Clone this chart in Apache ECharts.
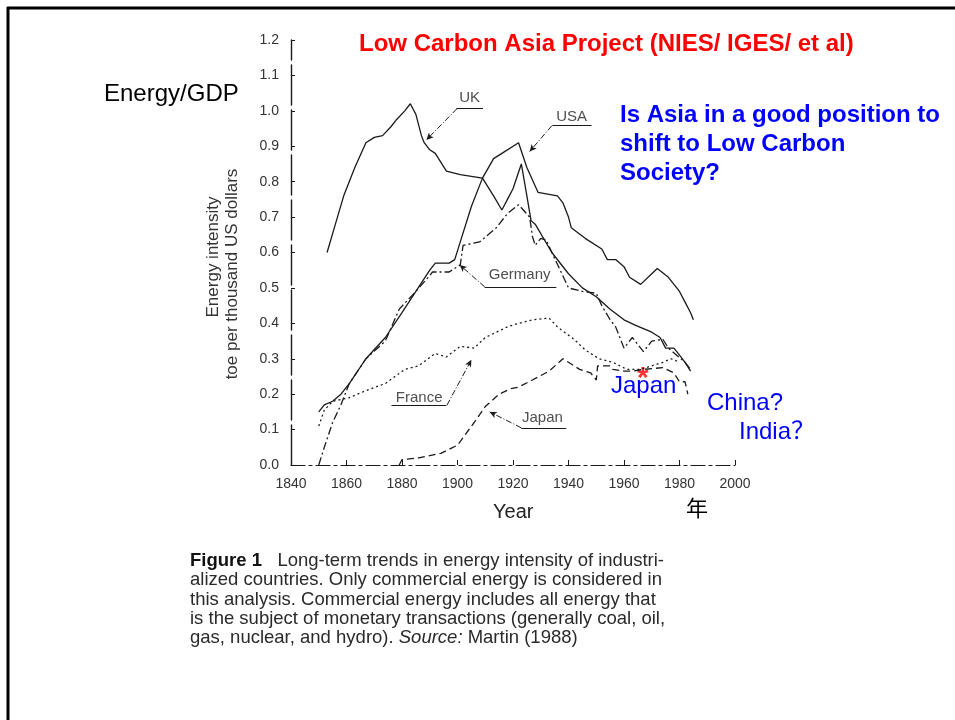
<!DOCTYPE html>
<html><head><meta charset="utf-8">
<script src="https://cdn.jsdelivr.net/npm/echarts@6/dist/echarts.min.js"></script>
<style>html,body{margin:0;padding:0;background:#fff}#c{width:955px;height:720px}</style>
</head><body><div id="c"></div>
<script>
// ---- data (year, toe per thousand US dollars) ----
const uk = [[1853,0.60],[1856,0.68],[1859,0.76],[1863,0.84],[1867,0.91],[1870,0.925],[1873,0.93],[1876,0.955],[1878,0.975],[1881,1.00],[1883,1.02],[1885,0.99],[1887,0.93],[1888,0.91],[1890,0.89],[1892,0.88],[1896,0.83],[1901,0.82],[1905,0.815],[1909,0.81],[1913,0.76],[1916,0.72],[1918,0.75],[1920,0.78],[1923,0.85],[1925,0.76],[1926.5,0.69],[1928,0.68],[1934,0.60],[1940,0.54],[1945,0.50],[1950,0.475],[1955,0.44],[1960,0.41],[1964,0.395],[1970,0.375],[1973,0.36],[1975,0.33],[1978,0.33],[1980,0.31],[1982,0.29],[1984,0.265]];
const usa = [[1850,0.15],[1852,0.17],[1855,0.18],[1858,0.20],[1861,0.23],[1867,0.30],[1874,0.36],[1880,0.43],[1885,0.49],[1890,0.55],[1892,0.57],[1897,0.57],[1899,0.58],[1901,0.63],[1905,0.73],[1909,0.81],[1913,0.865],[1916,0.88],[1922,0.91],[1925,0.84],[1929,0.77],[1936,0.76],[1938,0.74],[1940,0.70],[1941,0.67],[1946,0.64],[1952,0.61],[1954,0.58],[1957,0.58],[1960,0.56],[1962,0.53],[1966,0.51],[1970,0.54],[1972,0.555],[1976,0.53],[1980,0.49],[1982,0.46],[1984,0.43],[1985,0.41]];
const germany = [[1850,0.0],[1852,0.05],[1855,0.12],[1858,0.17],[1861,0.23],[1867,0.30],[1874,0.35],[1879,0.44],[1885,0.49],[1890,0.535],[1891,0.545],[1897,0.545],[1901,0.565],[1902,0.62],[1908,0.63],[1914,0.67],[1918,0.71],[1922,0.735],[1926,0.70],[1927,0.645],[1928,0.62],[1930,0.64],[1932,0.635],[1934,0.60],[1940,0.50],[1945,0.49],[1950,0.485],[1952,0.45],[1955,0.41],[1957,0.39],[1960,0.33],[1963,0.36],[1967,0.32],[1970,0.35],[1974,0.355],[1976,0.33],[1982,0.29],[1984,0.27]];
const france = [[1850,0.11],[1852,0.155],[1855,0.18],[1861,0.19],[1867,0.21],[1874,0.23],[1881,0.27],[1886,0.28],[1892,0.315],[1896,0.305],[1901,0.335],[1906,0.33],[1910,0.36],[1918,0.39],[1922,0.40],[1927,0.41],[1933,0.415],[1936,0.39],[1942,0.355],[1946,0.325],[1951,0.30],[1956,0.29],[1961,0.27],[1966,0.27],[1970,0.28],[1974,0.29],[1977,0.30],[1980,0.29]];
const japan = [[1879,0.0],[1880,0.015],[1886,0.02],[1894,0.033],[1900,0.056],[1906,0.12],[1910,0.165],[1915,0.20],[1919,0.215],[1922,0.22],[1927,0.24],[1933,0.265],[1938,0.30],[1940,0.29],[1944,0.27],[1948,0.26],[1950,0.24],[1950.5,0.28],[1955,0.28],[1956,0.27],[1960,0.265],[1963,0.265],[1967,0.27],[1974,0.275],[1978,0.26],[1980,0.235],[1982,0.235],[1983,0.20]];
const japanMark = [[1966.8,0.263]];
const yTickLabels = ['0.0','0.1','0.2','0.3','0.4','0.5','0.6','0.7','0.8','0.9','1.0','1.1','1.2'];
const countryNames = ['UK','USA','Germany','France','Japan'];
// annotation anchors in data coordinates: label centre, underline start/end, leader start/end
const labelAt = [[1904.4,1.037],[1941.1,0.983],[1922.4,0.537],[1886.2,0.189],[1930.6,0.133]];
const underline = [[[1899.6,1.006],[1909.2,1.006]],[[1934.2,0.958],[1948.3,0.958]],[[1909.8,0.503],[1935.6,0.503]],[[1876.2,0.169],[1896,0.169]],[[1923,0.105],[1939.2,0.105]]];
const leader = [[[1899.8,1.006],[1888.8,0.918]],[[1934.0,0.958],[1926,0.885]],[[1909.8,0.503],[1900.8,0.565]],[[1896.2,0.169],[1905,0.297]],[[1923,0.105],[1911.6,0.15]]];

const chart = echarts.init(document.getElementById('c'));
const ink = '#1a1a1a';
function lineSeries(name, data, type){
  return {name, type:'line', data, symbol:'none', smooth:false, silent:true,
    lineStyle:{color:ink, width:1.3, type}};
}
chart.setOption({
  animation:false,
  backgroundColor:'#fff',
  grid:{left:291, right:220, top:40, bottom:255},
  xAxis:{type:'value', min:1840, max:2000, interval:20,
    axisLine:{lineStyle:{color:ink, width:1.2, type:[14,4,3,4]}},
    axisTick:{inside:true, length:5, lineStyle:{color:ink}},
    axisLabel:{color:'#333', fontSize:14, margin:12, fontFamily:'Liberation Sans, Arial', formatter:v=>String(v)},
    splitLine:{show:false}},
  yAxis:{type:'value', min:0, max:1.2, interval:0.1,
    axisLine:{show:true, lineStyle:{color:ink, width:1.4, type:[40,5]}},
    axisTick:{show:true, inside:true, length:4, lineStyle:{color:ink}},
    axisLabel:{color:'#333', fontSize:14, margin:12, fontFamily:'Liberation Sans, Arial',
      formatter:v=>yTickLabels[Math.round(v*10)]},
    splitLine:{show:false}},
  series:[
    lineSeries('UK', uk, 'solid'),
    lineSeries('USA', usa, 'solid'),
    lineSeries('Germany', germany, [8,3,2,3]),
    lineSeries('France', france, [2,3]),
    lineSeries('Japan', japan, [7,4]),
    {type:'scatter', silent:true, symbolSize:0,
      data: labelAt.map((p,i)=>({value:p, name:countryNames[i]})),
      label:{show:true, position:'inside', formatter:'{b}', color:'#222', fontSize:15, fontFamily:'Liberation Sans, Arial'},
      markLine:{silent:true, symbol:['none','none'], label:{show:false},
        lineStyle:{color:ink, width:1, type:'solid'},
        data: underline.map(s=>[{coord:s[0]},{coord:s[1]}])}},
    {type:'line', data:[], silent:true,
      markLine:{silent:true, symbol:['none','arrow'], symbolSize:[5,7], label:{show:false},
        lineStyle:{color:ink, width:1, type:[6,2,1,2]},
        data: leader.map(s=>[{coord:s[0]},{coord:s[1]}])}},
    {type:'scatter', silent:true, symbolSize:0, data:japanMark,
      label:{show:true, position:'inside', formatter:'*', color:'#ff0000', fontSize:30, fontWeight:'bold', offset:[0,7], fontFamily:'Liberation Sans, Arial'}}
  ],
  graphic:[
    {type:'line', shape:{x1:7,y1:8,x2:955,y2:8}, style:{stroke:'#000', lineWidth:3}},
    {type:'line', shape:{x1:8,y1:7,x2:8,y2:720}, style:{stroke:'#000', lineWidth:3}},
    {type:'text', left:359, top:32, style:{text:'Low Carbon Asia Project (NIES/ IGES/ et al)', fill:'#ff0000', font:'bold 24px "Liberation Sans", Arial'}},
    {type:'text', left:104, top:82, style:{text:'Energy/GDP', fill:'#000', font:'24px "Liberation Sans", Arial'}},
    {type:'text', left:620, top:101, style:{text:'Is Asia in a good position to\nshift to Low Carbon\nSociety?', fill:'#0000ff', font:'bold 24px "Liberation Sans", Arial', lineHeight:29}},
    {type:'text', left:611, top:374, style:{text:'Japan', fill:'#0000ff', font:'24px "Liberation Sans", Arial'}},
    {type:'text', left:707, top:391, style:{text:'China?', fill:'#0000ff', font:'24px "Liberation Sans", Arial'}},
    {type:'text', left:739, top:420, style:{text:'India？', fill:'#0000ff', font:'24px "Liberation Sans", "Noto Sans CJK SC"'}},
    {type:'text', left:493, top:502, style:{text:'Year', fill:'#222', font:'20px "Liberation Sans", Arial'}},
    {type:'text', left:686, top:497, style:{text:'年', fill:'#000', font:'22px "Noto Sans CJK SC"'}},
    {type:'text', x:213, y:257, rotation:Math.PI/2, style:{text:'Energy intensity', fill:'#333', font:'17px "Liberation Sans", Arial', align:'center', verticalAlign:'middle'}},
    {type:'text', x:232, y:274, rotation:Math.PI/2, style:{text:'toe per thousand US dollars', fill:'#333', font:'17px "Liberation Sans", Arial', align:'center', verticalAlign:'middle'}},
    {type:'text', left:190, top:551, style:{
      text:'{b|Figure 1}   Long-term trends in energy intensity of industri-\nalized countries. Only commercial energy is considered in\nthis analysis. Commercial energy includes all energy that\nis the subject of monetary transactions (generally coal, oil,\ngas, nuclear, and hydro). {i|Source:} Martin (1988)',
      fill:'#2a2a2a', font:'18.5px "Liberation Sans", Arial', lineHeight:19.4,
      rich:{b:{fontWeight:'bold', fontSize:18.5, fill:'#111', lineHeight:19.4}, i:{fontStyle:'italic', fontSize:18.5, lineHeight:19.4}}}}
  ]
});
</script></body></html>
